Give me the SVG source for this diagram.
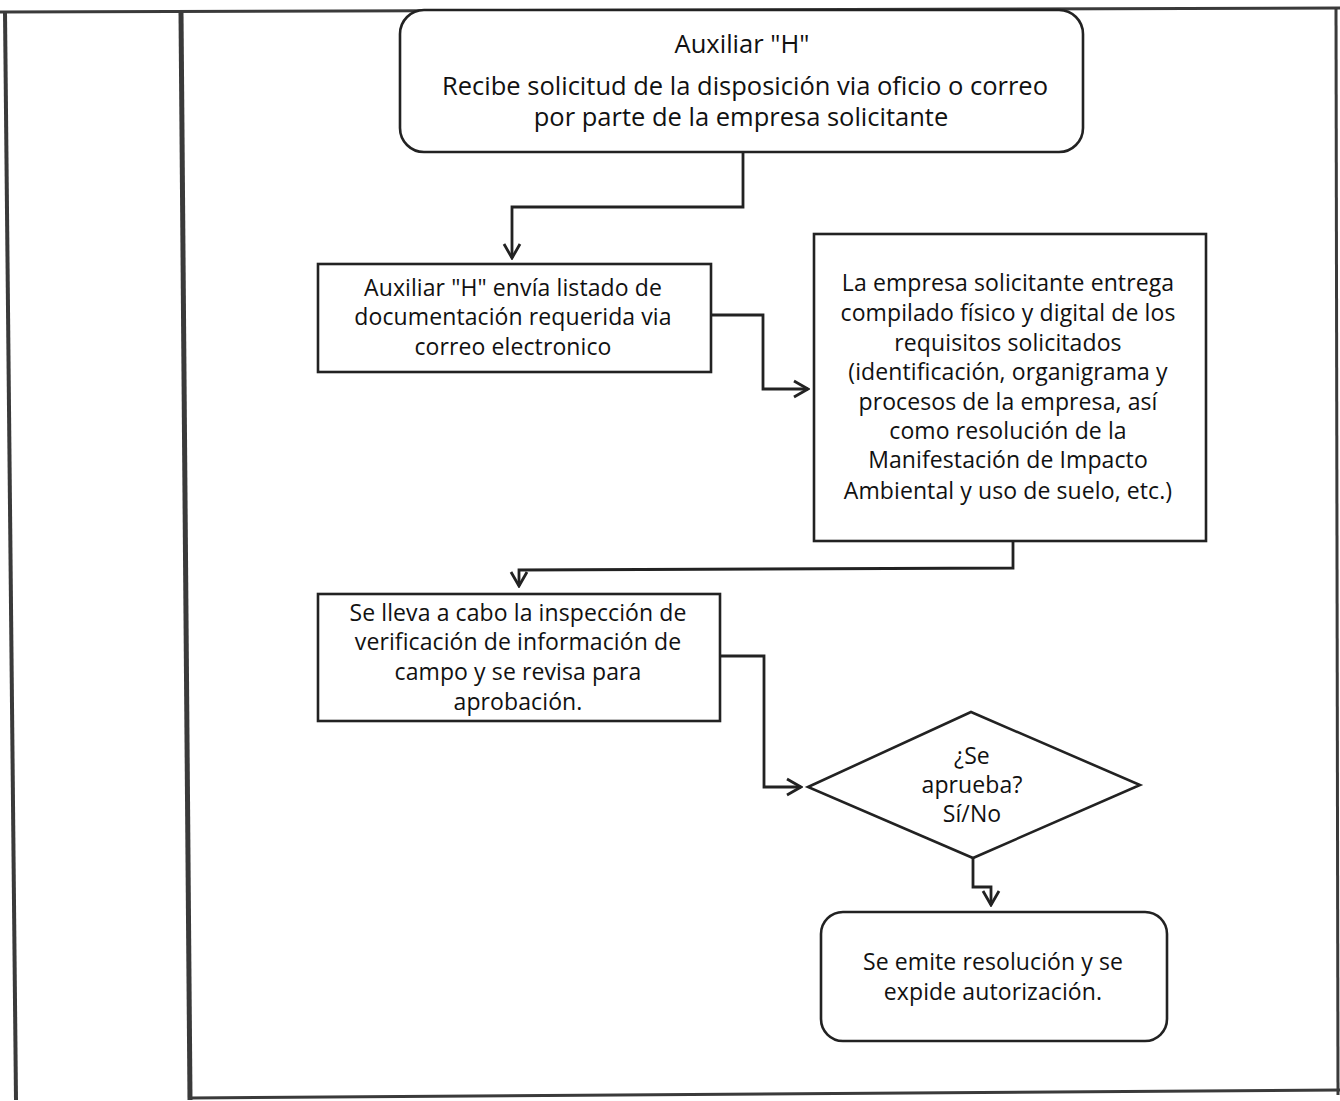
<svg xmlns="http://www.w3.org/2000/svg" width="1340" height="1101" viewBox="0 0 1340 1101">
<defs>
<style>
.frame{stroke:#3a3a3a;fill:none}
.box{fill:#fff;stroke:#222;stroke-width:2.6}
.conn{fill:none;stroke:#222;stroke-width:2.8}
.t{font-family:"Open Sans","Noto Sans","Liberation Sans",sans-serif;font-size:23px;letter-spacing:0.1px;fill:#111;text-anchor:middle}
.big{font-size:25.5px;letter-spacing:0}
</style>
<marker id="ah" viewBox="0 0 20 20" refX="18" refY="10" markerWidth="20" markerHeight="20" markerUnits="userSpaceOnUse" orient="auto">
<polyline points="4,2 18,10 4,18" fill="none" stroke="#222" stroke-width="2.8"/>
</marker>
</defs>
<rect width="1340" height="1101" fill="#fff"/>
<g id="frame">
<line class="frame" x1="0" y1="12" x2="1340" y2="8" stroke-width="3"/>
<line class="frame" x1="5" y1="12" x2="16" y2="1100" stroke-width="4"/>
<line class="frame" x1="181" y1="12" x2="190" y2="1100" stroke-width="5"/>
<line class="frame" x1="1336" y1="8" x2="1338" y2="1095" stroke-width="3"/>
<line class="frame" x1="190" y1="1098" x2="1340" y2="1090" stroke-width="3"/>
</g>
<g id="connectors">
<polyline class="conn" points="743,152 743,207 512,207 512,258" marker-end="url(#ah)"/>
<polyline class="conn" points="711,315 763,315 763,389 808,389" marker-end="url(#ah)"/>
<polyline class="conn" points="1013,541 1013,568 519,570 519,586" marker-end="url(#ah)"/>
<polyline class="conn" points="720,656 764,656 764,787 801,787" marker-end="url(#ah)"/>
<polyline class="conn" points="973,858 973,887 991,887 991,905" marker-end="url(#ah)"/>
</g>
<g id="n1">
<rect class="box" x="400" y="10" width="683" height="142" rx="24"/>
<text class="t big" x="742" y="53">Auxiliar "H"</text>
<text class="t big" x="745" y="95">Recibe solicitud de la disposición via oficio o correo</text>
<text class="t big" x="741" y="126">por parte de la empresa solicitante</text>
</g>
<g id="n2">
<rect class="box" x="318" y="264" width="393" height="108"/>
<text class="t" x="513" y="296">Auxiliar "H" envía listado de</text>
<text class="t" x="513" y="325">documentación requerida via</text>
<text class="t" x="513" y="355">correo electronico</text>
</g>
<g id="n3">
<rect class="box" x="814" y="234" width="392" height="307"/>
<text class="t" x="1008" y="291">La empresa solicitante entrega</text>
<text class="t" x="1008" y="321">compilado físico y digital de los</text>
<text class="t" x="1008" y="351">requisitos solicitados</text>
<text class="t" x="1008" y="380">(identificación, organigrama y</text>
<text class="t" x="1008" y="410">procesos de la empresa, así</text>
<text class="t" x="1008" y="439">como resolución de la</text>
<text class="t" x="1008" y="468">Manifestación de Impacto</text>
<text class="t" x="1008" y="499">Ambiental y uso de suelo, etc.)</text>
</g>
<g id="n4">
<rect class="box" x="318" y="594" width="402" height="127"/>
<text class="t" x="518" y="621">Se lleva a cabo la inspección de</text>
<text class="t" x="518" y="650">verificación de información de</text>
<text class="t" x="518" y="680">campo y se revisa para</text>
<text class="t" x="518" y="710">aprobación.</text>
</g>
<g id="n5">
<polygon class="box" points="808,787 971,712 1140,785 973,858"/>
<text class="t" x="972" y="764">¿Se</text>
<text class="t" x="972" y="793">aprueba?</text>
<text class="t" x="972" y="822">Sí/No</text>
</g>
<g id="n6">
<rect class="box" x="821" y="912" width="346" height="129" rx="22"/>
<text class="t" x="993" y="970">Se emite resolución y se</text>
<text class="t" x="993" y="1000">expide autorización.</text>
</g>
</svg>
